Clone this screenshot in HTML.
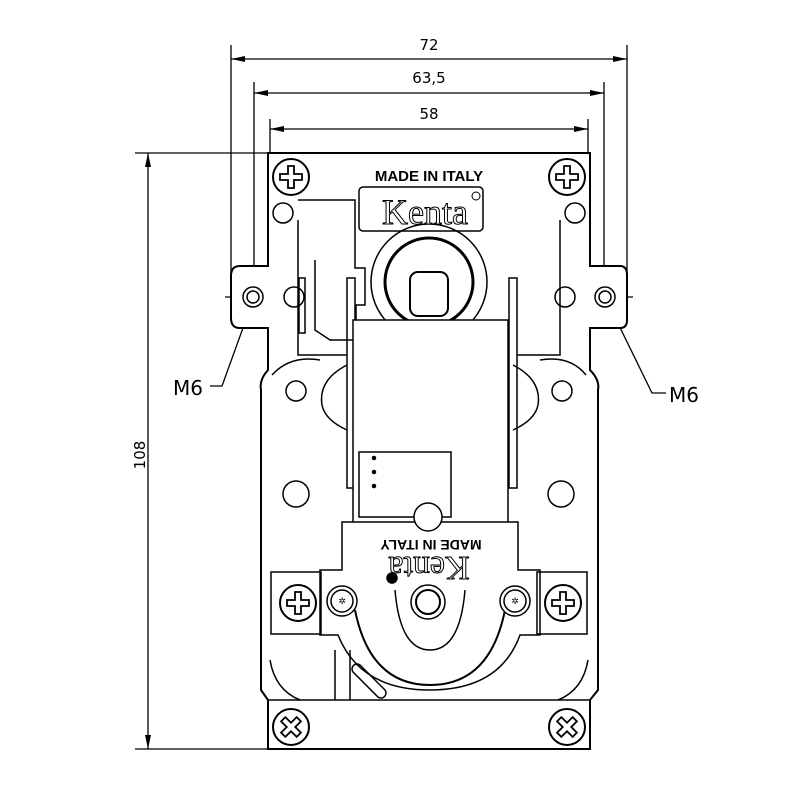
<!DOCTYPE html>
<html><head><meta charset="utf-8"><style>
html,body{margin:0;padding:0;background:#fff}
svg{display:block}
text{font-family:"DejaVu Sans","Liberation Sans",sans-serif}
</style></head><body>
<svg width="800" height="800" viewBox="0 0 800 800" xmlns="http://www.w3.org/2000/svg">
<defs>
<marker id="a" markerWidth="14" markerHeight="8" refX="14" refY="4" orient="auto" markerUnits="userSpaceOnUse"><path d="M0,1 L14,4 L0,7z" fill="#000"/></marker>
<marker id="b" markerWidth="14" markerHeight="8" refX="0" refY="4" orient="auto" markerUnits="userSpaceOnUse"><path d="M14,1 L0,4 L14,7z" fill="#000"/></marker>
<g id="scr"><circle r="18" fill="#fff" stroke="#000" stroke-width="2"/><path d="M-3,-11 h6 v8 h8 v6 h-8 v8 h-6 v-8 h-8 v-6 h8z" fill="none" stroke="#000" stroke-width="1.8"/></g>
</defs>
<g stroke="#000" stroke-width="1.3" fill="none">
<line x1="231" y1="45" x2="231" y2="297"/><line x1="627" y1="45" x2="627" y2="297"/>
<line x1="254" y1="82" x2="254" y2="297"/><line x1="604" y1="82" x2="604" y2="297"/>
<line x1="270" y1="119" x2="270" y2="200"/><line x1="588" y1="119" x2="588" y2="200"/>
<line x1="231" y1="59" x2="627" y2="59" marker-start="url(#b)" marker-end="url(#a)"/>
<line x1="254" y1="93" x2="604" y2="93" marker-start="url(#b)" marker-end="url(#a)"/>
<line x1="270" y1="129" x2="588" y2="129" marker-start="url(#b)" marker-end="url(#a)"/>
<line x1="135" y1="153" x2="290" y2="153"/><line x1="135" y1="749" x2="280" y2="749"/>
<line x1="148" y1="153" x2="148" y2="749" marker-start="url(#b)" marker-end="url(#a)"/>
<line x1="225" y1="297" x2="290" y2="297"/><line x1="570" y1="297" x2="633" y2="297"/>
</g>
<g font-size="15" text-anchor="middle" fill="#000">
<text x="429" y="50">72</text><text x="429" y="83">63,5</text><text x="429" y="119">58</text>
<text x="0" y="0" transform="translate(145,455) rotate(-90)" text-anchor="middle">108</text>
<text x="188" y="395" font-size="20">M6</text><text x="684" y="402" font-size="20">M6</text>
</g>
<g stroke="#000" stroke-width="1.3" fill="none">
<path d="M210,386 H222 L252,303"/><path d="M666,393 H652 L608,303"/>
</g>
<g stroke="#000" stroke-width="2" fill="#fff">
<path d="M268,153 H590 V266 H620 Q627,266 627,275 V320 Q627,328 620,328 H590 V370 Q600,380 598,390 V690 L590,700 V749 H268 V700 L261,690 V390 Q259,380 268,370 V328 H240 Q231,328 231,318 V276 Q231,266 240,266 H268 Z"/>
</g>
<g stroke="#000" stroke-width="1.5" fill="none">
<line x1="268" y1="700" x2="590" y2="700"/>
<rect x="359" y="187" width="124" height="44" rx="4"/>
<circle cx="429" cy="282" r="58"/><circle cx="429" cy="282" r="44" stroke-width="3"/>
<rect x="410" y="272" width="38" height="44" rx="8" stroke-width="2"/>
<path d="M298,200 H355 V268 H365 V305 H356 V340 H330 L315,330 V260"/>
<rect x="299" y="278" width="6" height="55"/>
<rect x="347" y="278" width="8" height="210"/><rect x="509" y="278" width="8" height="210"/>
<rect x="353" y="320" width="155" height="210" fill="#fff"/>
<rect x="359" y="452" width="92" height="65" fill="#fff"/>
<circle cx="374" cy="458" r="1.5" fill="#000"/><circle cx="374" cy="472" r="1.5" fill="#000"/><circle cx="374" cy="486" r="1.5" fill="#000"/>
<path d="M298,220 V355 H347"/><path d="M560,220 V355 H517"/>
<path d="M272,375 Q290,355 320,360"/><path d="M586,375 Q570,355 540,360"/>
<path d="M347,365 Q318,380 322,405 Q325,420 347,430"/><path d="M513,365 Q542,380 538,405 Q535,420 513,430"/>
<circle cx="283" cy="213" r="10"/><circle cx="575" cy="213" r="10"/>
<circle cx="253" cy="297" r="10"/><circle cx="253" cy="297" r="6"/>
<circle cx="605" cy="297" r="10"/><circle cx="605" cy="297" r="6"/>
<circle cx="294" cy="297" r="10"/><circle cx="565" cy="297" r="10"/>
<circle cx="296" cy="391" r="10"/><circle cx="562" cy="391" r="10"/>
<circle cx="296" cy="494" r="13"/><circle cx="561" cy="494" r="13"/>
<path d="M342,522 H518 V570 H540 V635 H520 Q500,690 430,690 Q360,690 338,635 H320 V570 H342 Z" fill="#fff"/>
<rect x="271" y="572" width="50" height="62"/><rect x="537" y="572" width="50" height="62"/>
<path d="M270,660 Q275,690 300,700"/><path d="M588,660 Q583,690 558,700"/>
<path d="M355,610 Q370,685 430,685 Q490,685 505,610" stroke-width="2"/>
<path d="M395,590 Q400,650 430,650 Q460,650 465,590"/>
<line x1="335" y1="650" x2="335" y2="700"/><line x1="350" y1="650" x2="350" y2="700"/>
<path d="M360,665 l25,25 a5,5 0 0 1 -7,7 l-25,-25 a5,5 0 0 1 7,-7z"/>
<circle cx="428" cy="517" r="14" fill="#fff"/>
<circle cx="428" cy="602" r="17"/><circle cx="428" cy="602" r="12" stroke-width="2"/>
<circle cx="342" cy="601" r="15" fill="#fff"/><circle cx="515" cy="601" r="15" fill="#fff"/>
<circle cx="342" cy="601" r="11"/><circle cx="515" cy="601" r="11"/>
<circle cx="392" cy="578" r="5" fill="#000"/>
</g>
<g fill="#000"><text x="342" y="604" text-anchor="middle" font-size="9">✲</text><text x="515" y="604" text-anchor="middle" font-size="9">✲</text></g>
<use href="#scr" x="291" y="177"/><use href="#scr" x="567" y="177"/>
<use href="#scr" x="298" y="603"/><use href="#scr" x="563" y="603"/>
<use href="#scr" x="291" y="727" transform="rotate(45 291 727)"/><use href="#scr" x="567" y="727" transform="rotate(45 567 727)"/>
<text x="429" y="181" text-anchor="middle" font-size="15" font-weight="bold" fill="#000" style="font-family:'Liberation Sans',sans-serif">MADE IN ITALY</text>
<text x="425" y="224" text-anchor="middle" font-size="36" fill="#fff" stroke="#000" stroke-width="1" style="font-family:'Liberation Serif',serif">Kenta</text>
<circle cx="476" cy="196" r="4" fill="none" stroke="#000"/>
<g transform="rotate(180 429 560)">
<text x="427" y="580" text-anchor="middle" font-size="14" font-weight="bold" fill="#000" style="font-family:'Liberation Sans',sans-serif">MADE IN ITALY</text>
<text x="429" y="563" text-anchor="middle" font-size="34" fill="#fff" stroke="#000" stroke-width="1" style="font-family:'Liberation Serif',serif">Kenta</text>
</g>
</svg>
</body></html>
